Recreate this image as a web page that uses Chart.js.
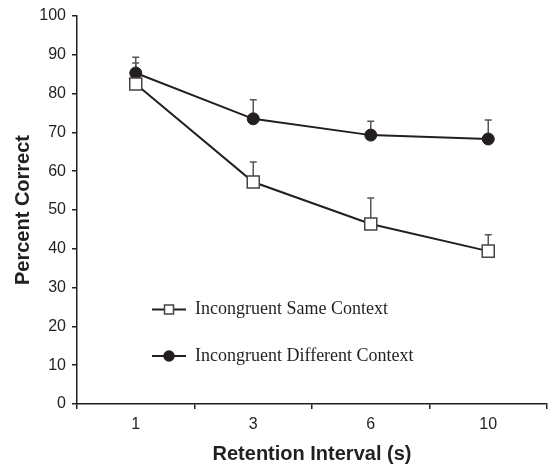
<!DOCTYPE html>
<html>
<head>
<meta charset="utf-8">
<script src="https://cdn.jsdelivr.net/npm/chart.js@4"></script>
<style>
  html, body { margin: 0; padding: 0; background: #fff; }
  #wrap { width: 550px; height: 466px; }
</style>
</head>
<body>
<div id="wrap"><canvas id="myChart" width="550" height="466"></canvas></div>
<script>
"use strict";

const intervals = ['1', '3', '6', '10'];
const sameContext = [82.5, 57.2, 46.4, 39.4];
const sameErr = [5.4, 5.2, 6.7, 4.2];
const diffContext = [85.3, 73.5, 69.3, 68.3];
const diffErr = [4.1, 4.9, 3.6, 4.9];

const ink = '#231f20';

const errorBarsPlugin = {
    id: 'errorBars',
    beforeDatasetsDraw(chart) {
        const ctx = chart.ctx;
        const yScale = chart.scales.y;
        ctx.save();
        ctx.strokeStyle = '#555';
        ctx.lineWidth = 1.5;
        chart.data.datasets.forEach((ds, i) => {
            const meta = chart.getDatasetMeta(i);
            meta.data.forEach((pt, j) => {
                const top = yScale.getPixelForValue(ds.data[j] + ds.errors[j]);
                ctx.beginPath();
                ctx.moveTo(pt.x, pt.y);
                ctx.lineTo(pt.x, top);
                ctx.moveTo(pt.x - 3.5, top);
                ctx.lineTo(pt.x + 3.5, top);
                ctx.stroke();
            });
        });
        ctx.restore();
    }
};

const insideLegendPlugin = {
    id: 'insideLegend',
    afterDraw(chart) {
        const ctx = chart.ctx;
        const area = chart.chartArea;
        const rows = [293.5, 340];
        const x0 = area.left + 75;
        ctx.save();
        chart.data.datasets.forEach((ds, i) => {
            const y = area.top + rows[i];
            ctx.strokeStyle = ink;
            ctx.lineWidth = 2;
            ctx.beginPath();
            ctx.moveTo(x0, y);
            ctx.lineTo(x0 + 34, y);
            ctx.stroke();
            const cx = x0 + 17;
            ctx.fillStyle = ds.pointBackgroundColor;
            ctx.strokeStyle = ds.pointBorderColor;
            ctx.lineWidth = 1.5;
            ctx.beginPath();
            if (ds.pointStyle === 'rect') {
                ctx.rect(cx - 4.5, y - 4.5, 9, 9);
            } else {
                ctx.arc(cx, y, 5, 0, Math.PI * 2);
            }
            ctx.fill();
            ctx.stroke();
            ctx.fillStyle = ink;
            ctx.font = '18px "Liberation Serif", "Times New Roman", serif';
            ctx.textBaseline = 'middle';
            ctx.fillText(ds.label, x0 + 43, y);
        });
        ctx.restore();
    }
};

const ctx = document.getElementById('myChart');

const chart = new Chart(ctx, {
    type: 'line',
    data: {
        labels: intervals,
        datasets: [{
            label: 'Incongruent Same Context',
            data: sameContext,
            errors: sameErr,
            borderColor: ink,
            borderWidth: 2,
            pointStyle: 'rect',
            pointRadius: 8.5,
            pointBackgroundColor: '#fff',
            pointBorderColor: '#444',
            pointBorderWidth: 1.5,
            tension: 0
        }, {
            label: 'Incongruent Different Context',
            data: diffContext,
            errors: diffErr,
            borderColor: ink,
            borderWidth: 2,
            pointStyle: 'circle',
            pointRadius: 6,
            pointBackgroundColor: ink,
            pointBorderColor: ink,
            pointBorderWidth: 1,
            tension: 0
        }]
    },
    options: {
        responsive: false,
        animation: false,
        events: [],
        layout: {
            autoPadding: false,
            padding: { top: 16, right: 3, left: 0, bottom: 0 }
        },
        plugins: {
            legend: { display: false },
            tooltip: { enabled: false }
        },
        scales: {
            x: {
                type: 'category',
                offset: true,
                grid: {
                    offset: true,
                    drawOnChartArea: false,
                    drawTicks: true,
                    tickLength: 5,
                    color: ink,
                    lineWidth: 1.5
                },
                border: { display: true, color: ink, width: 1.5 },
                ticks: {
                    color: ink,
                    padding: 6,
                    font: { family: '"Liberation Sans", Arial, sans-serif', size: 16 }
                },
                title: {
                    display: true,
                    text: 'Retention Interval (s)',
                    color: ink,
                    padding: { top: 0, bottom: 0 },
                    font: { family: '"Liberation Sans", Arial, sans-serif', size: 20, weight: 'bold' }
                },
                afterFit(scale) { scale.height = 62; }
            },
            y: {
                min: 0,
                max: 100,
                grid: {
                    drawOnChartArea: false,
                    drawTicks: true,
                    tickLength: 5,
                    color: ink,
                    lineWidth: 1.5
                },
                border: { display: true, color: ink, width: 1.5 },
                ticks: {
                    stepSize: 10,
                    color: ink,
                    padding: 6,
                    font: { family: '"Liberation Sans", Arial, sans-serif', size: 16 }
                },
                title: {
                    display: true,
                    text: 'Percent Correct',
                    color: ink,
                    padding: { top: 11, bottom: 0 },
                    font: { family: '"Liberation Sans", Arial, sans-serif', size: 20, weight: 'bold' }
                },
                afterFit(scale) { scale.width = 77; }
            }
        }
    },
    plugins: [errorBarsPlugin, insideLegendPlugin]
});
</script>
</body>
</html>
